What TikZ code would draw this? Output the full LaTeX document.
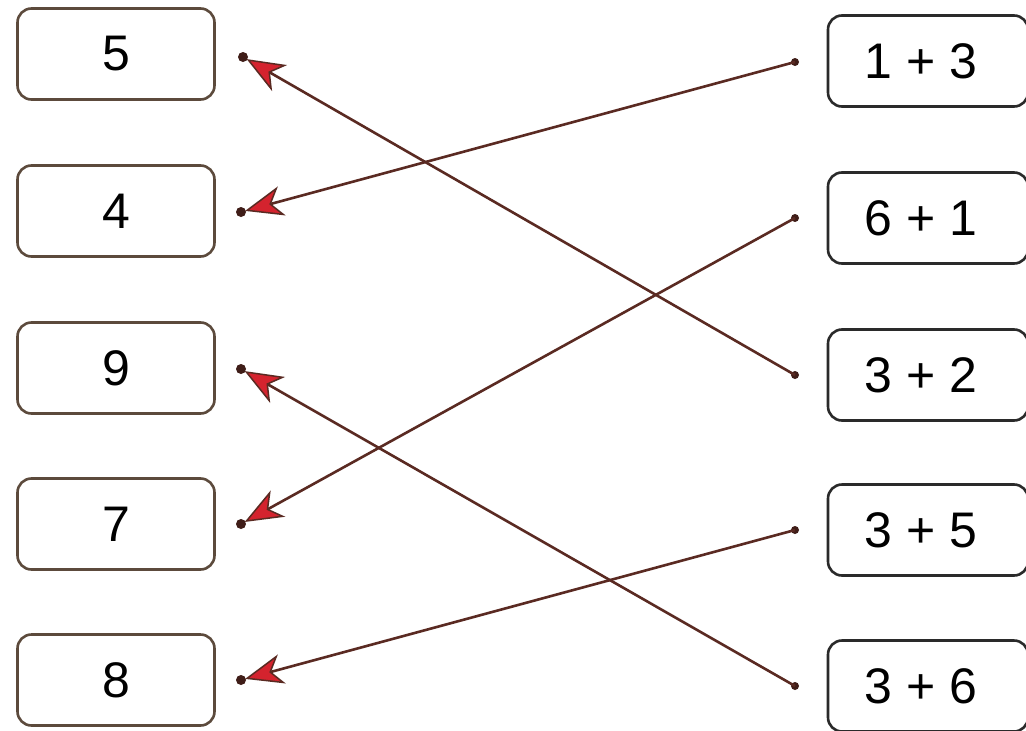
\documentclass[tikz,border=0pt]{standalone}
\usepackage{fontspec}
\setmainfont{Liberation Sans}
\usetikzlibrary{arrows.meta}
\definecolor{lframe}{HTML}{5C4A3C}
\definecolor{rframe}{HTML}{2A2A2A}
\definecolor{wire}{HTML}{5A2A22}
\definecolor{tipred}{HTML}{D4232E}
\begin{document}
\begin{tikzpicture}[x=1pt,y=-1pt,
  lbox/.style={draw=lframe,line width=2.6pt,rounded corners=14pt,minimum width=197pt,minimum height=91pt,inner sep=0pt,font=\fontsize{50}{56}\selectfont},
  rbox/.style={draw=rframe,line width=2.6pt,rounded corners=14pt,minimum width=200pt,minimum height=91pt,inner sep=0pt,font=\fontsize{50}{56}\selectfont},
  dotc/.style={circle,fill=wire!70!black,inner sep=0pt,minimum size=10pt},
  link/.style={draw=wire,line width=2.6pt,-{Stealth[length=38pt,width=30pt,inset=11pt,fill=tipred,line width=1.5pt]},shorten >=-1pt}
]
\useasboundingbox (0,0) rectangle (1026,731);
\fill[white] (0,0) rectangle (1026,731);
% left boxes
\node[lbox] (l5) at (116,54) {5};
\node[lbox] (l4) at (116,211) {4};
\node[lbox] (l9) at (116,368) {9};
\node[lbox] (l7) at (116,524) {7};
\node[lbox] (l8) at (116,680) {8};
% right boxes
\node[rbox] (r13) at (928,61) {\hspace*{-14pt}1 + 3};
\node[rbox] (r61) at (928,218) {\hspace*{-14pt}6 + 1};
\node[rbox] (r32) at (928,375) {\hspace*{-14pt}3 + 2};
\node[rbox] (r35) at (928,530) {\hspace*{-14pt}3 + 5};
\node[rbox] (r36) at (928,686) {\hspace*{-14pt}3 + 6};
% dots
\node[dotc] (d5) at (243,57) {};
\node[dotc] (d4) at (241,212) {};
\node[dotc] (d9) at (241,369) {};
\node[dotc] (d7) at (241,524) {};
\node[dotc] (d8) at (241,680) {};
\node[dotc,minimum size=8pt] (e13) at (795,62) {};
\node[dotc,minimum size=8pt] (e61) at (795,218) {};
\node[dotc,minimum size=8pt] (e32) at (795,375) {};
\node[dotc,minimum size=8pt] (e35) at (795,530) {};
\node[dotc,minimum size=8pt] (e36) at (795,686) {};
% connectors
\draw[link] (e13.center) -- (d4);
\draw[link] (e32.center) -- (d5);
\draw[link] (e61.center) -- (d7);
\draw[link] (e36.center) -- (d9);
\draw[link] (e35.center) -- (d8);
\end{tikzpicture}
\end{document}
